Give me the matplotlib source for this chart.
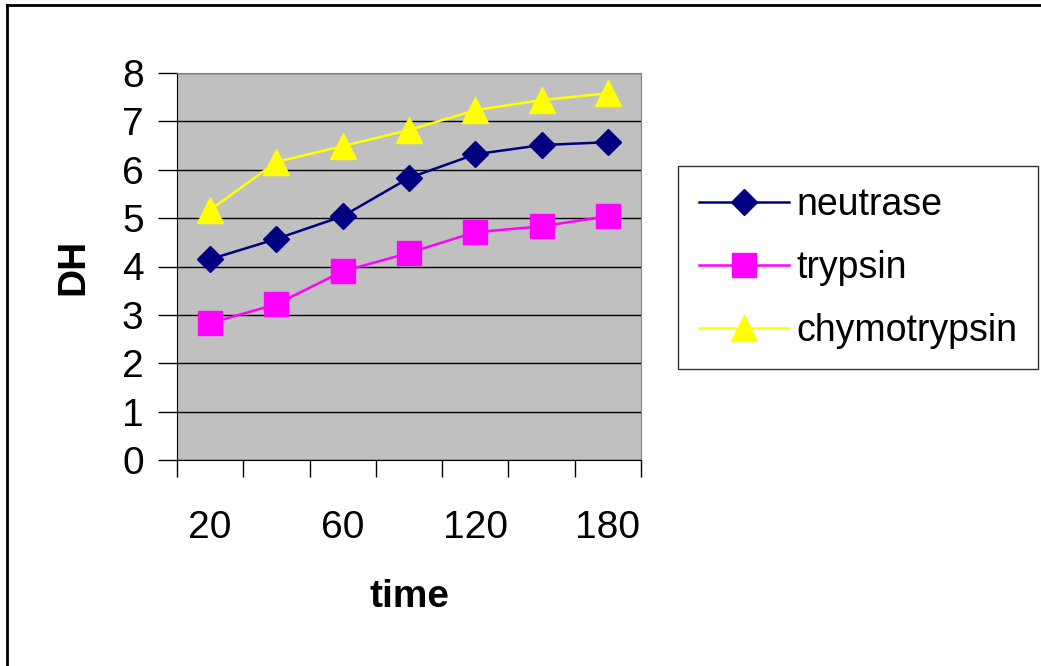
import matplotlib.pyplot as plt
from matplotlib.lines import Line2D
import numpy as np

plt.rcParams['font.family'] = ['Liberation Sans', 'DejaVu Sans']

# data
times = ['20', '40', '60', '90', '120', '150', '180']
neutrase = [4.15, 4.57, 5.04, 5.83, 6.32, 6.51, 6.57]
trypsin = [2.83, 3.22, 3.90, 4.28, 4.71, 4.83, 5.04]
chymotrypsin = [5.17, 6.16, 6.49, 6.82, 7.23, 7.44, 7.58]
shown_labels = ['20', '', '60', '', '120', '', '180']

W, H = 1041, 666
fig = plt.figure(figsize=(W / 100, H / 100), dpi=100)

# outer frame (top and left edges only are visible)
fig.add_artist(Line2D([7 / W, 7 / W], [0, 1 - 5 / H], color='black', lw=2))
fig.add_artist(Line2D([7 / W, 1], [1 - 5 / H, 1 - 5 / H], color='black', lw=2))

left, right, top, bottom = 177, 641, 73, 460
ax = fig.add_axes([left / W, 1 - bottom / H, (right - left) / W, (bottom - top) / H])
ax.set_facecolor('#c0c0c0')

x = np.arange(len(times))
ax.plot(x, neutrase, color='#000080', marker='D', markersize=13, lw=1.8, label='neutrase')
ax.plot(x, trypsin, color='#ff00ff', marker='s', markersize=17, lw=1.8, label='trypsin')
ax.plot(x, chymotrypsin, color='#ffff00', marker='^', markersize=19, lw=1.8, label='chymotrypsin')

ax.set_xlim(-0.5, len(times) - 0.5)
ax.set_ylim(0, 8)
ax.set_yticks(range(0, 9))
ax.yaxis.grid(True, color='black', lw=1)
ax.set_axisbelow(True)
ax.tick_params(axis='y', labelsize=28, length=14, width=1, pad=10)

# category ticks between points, labels under points
ax.set_xticks(np.arange(len(times) + 1) - 0.5)
ax.set_xticklabels([])
ax.tick_params(axis='x', length=12, width=1, direction='out')
ax.set_xticks(x, minor=True)
ax.set_xticklabels(shown_labels, minor=True)
ax.tick_params(axis='x', which='minor', length=0, labelsize=28, pad=36)

for side in ['top', 'right']:
    ax.spines[side].set_color('#808080')
for side in ['left', 'bottom']:
    ax.spines[side].set_color('black')

ax.set_ylabel('DH', fontsize=28, fontweight='bold', labelpad=22)
ax.set_xlabel('time', fontsize=28, fontweight='bold', labelpad=24)

leg = fig.legend(loc='upper left', bbox_to_anchor=(678 / W, 1 - 166 / H), fontsize=27,
                 frameon=True, fancybox=False, edgecolor='black', handlelength=2.4,
                 handletextpad=0.2, labelspacing=0.72, borderpad=0.55,
                 borderaxespad=0)
leg.get_frame().set_linewidth(1)

fig.savefig('out.png', dpi=100)
